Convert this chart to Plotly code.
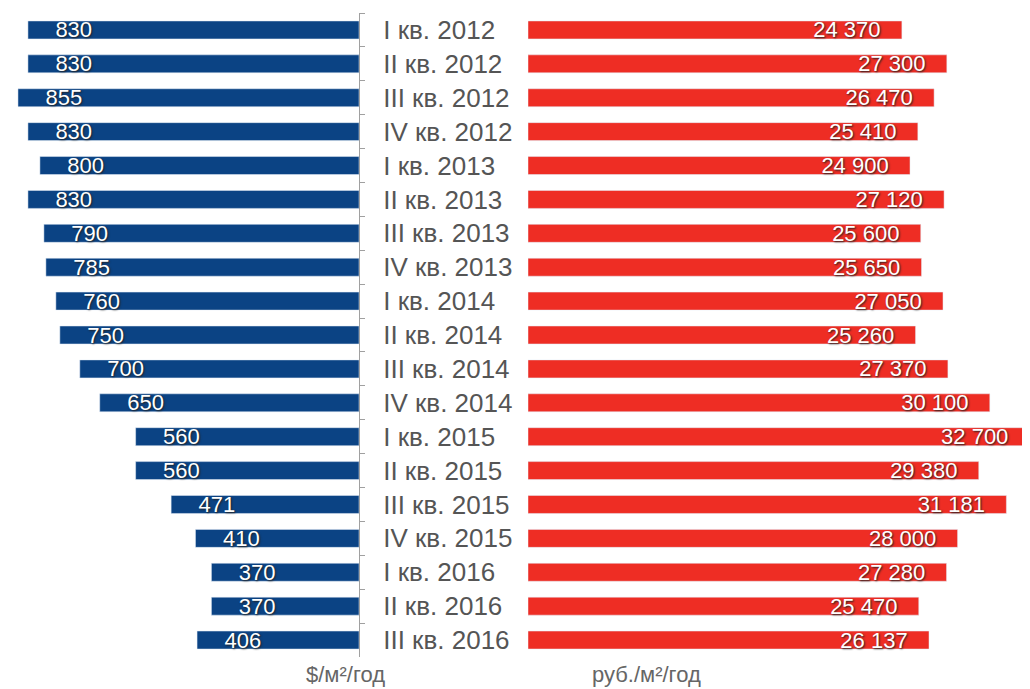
import plotly.graph_objects as go

categories = ["I кв. 2012", "II кв. 2012", "III кв. 2012", "IV кв. 2012",
              "I кв. 2013", "II кв. 2013", "III кв. 2013", "IV кв. 2013",
              "I кв. 2014", "II кв. 2014", "III кв. 2014", "IV кв. 2014",
              "I кв. 2015", "II кв. 2015", "III кв. 2015", "IV кв. 2015",
              "I кв. 2016", "II кв. 2016", "III кв. 2016"]
usd_values = [830, 830, 855, 830, 800, 830, 790, 785, 760, 750, 700, 650,
              560, 560, 471, 410, 370, 370, 406]
rub_values = [24370, 27300, 26470, 25410, 24900, 27120, 25600, 25650, 27050,
              25260, 27370, 30100, 32700, 29380, 31181, 28000, 27280, 25470, 26137]
usd_unit = "$/м²/год"
rub_unit = "руб./м²/год"

BLUE = "#0b4384"
RED = "#ee2d24"
FONT = "Arial, Liberation Sans, sans-serif"
NB = "\u00a0"

W, H = 1022, 681  # page body has an 8px margin

def fmt(v):
    return f"{v:,}".replace(",", " ")

usd_text = [NB * 4 + str(v) for v in usd_values]
rub_text = [fmt(v) + NB * 3 for v in rub_values]

value_font = dict(family=FONT, size=22, color="white", shadow="1px 1px 2px #222")

fig = go.Figure()
fig.add_trace(go.Bar(
    y=categories, x=usd_values, orientation="h", marker_color=BLUE,
    text=usd_text, textposition="inside", insidetextanchor="end",
    textangle=0, constraintext="none", textfont=value_font,
    width=0.53, xaxis="x", yaxis="y", hoverinfo="skip", showlegend=False))
fig.add_trace(go.Bar(
    y=categories, x=rub_values, orientation="h", marker_color=RED,
    text=rub_text, textposition="inside", insidetextanchor="end",
    textangle=0, constraintext="none", textfont=value_font,
    width=0.53, xaxis="x2", yaxis="y2", hoverinfo="skip", showlegend=False))

fig.update_layout(
    width=W, height=H,
    margin=dict(l=0, r=0, t=5, b=32, autoexpand=False),
    paper_bgcolor="white", plot_bgcolor="white",
    font=dict(family=FONT),
    xaxis=dict(domain=[0, 351 / W], range=[880, 0], visible=False, fixedrange=True),
    xaxis2=dict(domain=[520 / W, 1], range=[0, 32720], visible=False, fixedrange=True),
    yaxis=dict(anchor="x", side="right", autorange="reversed", type="category",
               showline=True, linecolor="#a0a0a0", linewidth=1,
               ticks="outside", tickson="boundaries", ticklen=5, tickcolor="#a0a0a0",
               ticklabelstandoff=18, automargin=False,
               tickfont=dict(family=FONT, size=26, color="#555555"),
               showgrid=False, zeroline=False),
    yaxis2=dict(anchor="x2", matches="y", type="category", visible=False),
    annotations=[
        dict(text=usd_unit, xref="paper", yref="paper", x=337 / W, y=-0.027,
             xanchor="center", yanchor="middle", showarrow=False,
             font=dict(family=FONT, size=22, color="#666666")),
        dict(text=rub_unit, xref="paper", yref="paper", x=638 / W, y=-0.027,
             xanchor="center", yanchor="middle", showarrow=False,
             font=dict(family=FONT, size=22, color="#666666")),
    ],
)

fig.write_html("out.html")
